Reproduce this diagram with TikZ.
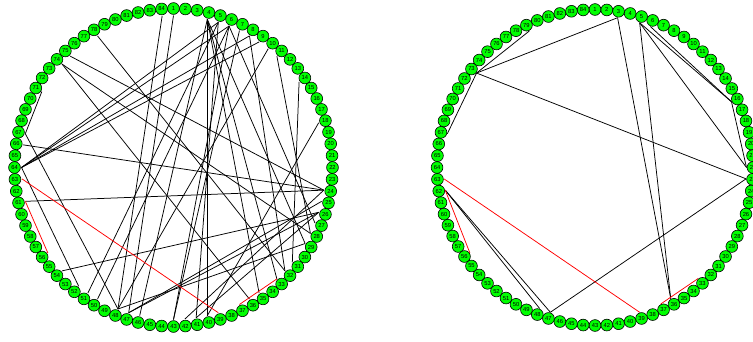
\documentclass[tikz,border=0pt]{standalone}
\usepackage{fontspec}
\setmainfont{Liberation Sans}
\begin{document}
\begin{tikzpicture}[x=1pt,y=-1pt,
  vtx/.style={circle,draw=black,fill=green,line width=0.6pt,minimum size=11.8pt,inner sep=0pt,font=\fontsize{5.8}{5.8}\selectfont},
  lnk/.style={line width=0.75pt,black},
  rlnk/.style={line width=0.75pt,red}]
\useasboundingbox (0,0) rectangle (753,341);
% edge anchor coordinates
\foreach \i in {1,...,84}{
  \pgfmathsetmacro\ang{90-(\i-1)*4.285714}
  \pgfmathsetmacro\lx{173.5+152*cos(\ang)}
  \pgfmathsetmacro\ly{167.5-152*sin(\ang)}
  \pgfmathsetmacro\rx{595+151.5*cos(\ang)}
  \pgfmathsetmacro\ry{167.5-151.5*sin(\ang)}
  \coordinate (LE\i) at (\lx,\ly);
  \coordinate (RE\i) at (\rx,\ry);
}
% left graph edges
\foreach \a/\b in {78/32,75/24,74/28,74/36,71/67,67/48,66/24,64/5,64/6,64/8,64/9,64/52,61/24,54/26,84/48,1/47,4/40,4/46,4/29,4/33,4/35,5/51,5/41,6/50,6/27,8/32,10/48,11/28,14/31,18/40,42/24,41/26,47/26,48/29,7/43,47/25,6/43}
  \draw[lnk] (LE\a) -- (LE\b);
\foreach \a/\b in {63/39,61/56,37/33}
  \draw[rlnk] (LE\a) -- (LE\b);
% right graph edges
\foreach \a/\b in {79/73,73/3,73/23,67/73,3/36,5/36,5/22,5/16,6/16,16/22,62/48,62/47,47/23}
  \draw[lnk] (RE\a) -- (RE\b);
\foreach \a/\b in {63/39,62/56,37/33}
  \draw[rlnk] (RE\a) -- (RE\b);
% vertices
\foreach \i in {1,...,84}{
  \pgfmathsetmacro\ang{90-(\i-1)*4.285714}
  \pgfmathsetmacro\lx{173.5+159*cos(\ang)}
  \pgfmathsetmacro\ly{167.5-159*sin(\ang)}
  \pgfmathsetmacro\rx{595+158*cos(\ang)}
  \pgfmathsetmacro\ry{167.5-158*sin(\ang)}
  \node[vtx] (L\i) at (\lx,\ly) {\i};
  \node[vtx] (R\i) at (\rx,\ry) {\i};
}
\end{tikzpicture}
\end{document}
